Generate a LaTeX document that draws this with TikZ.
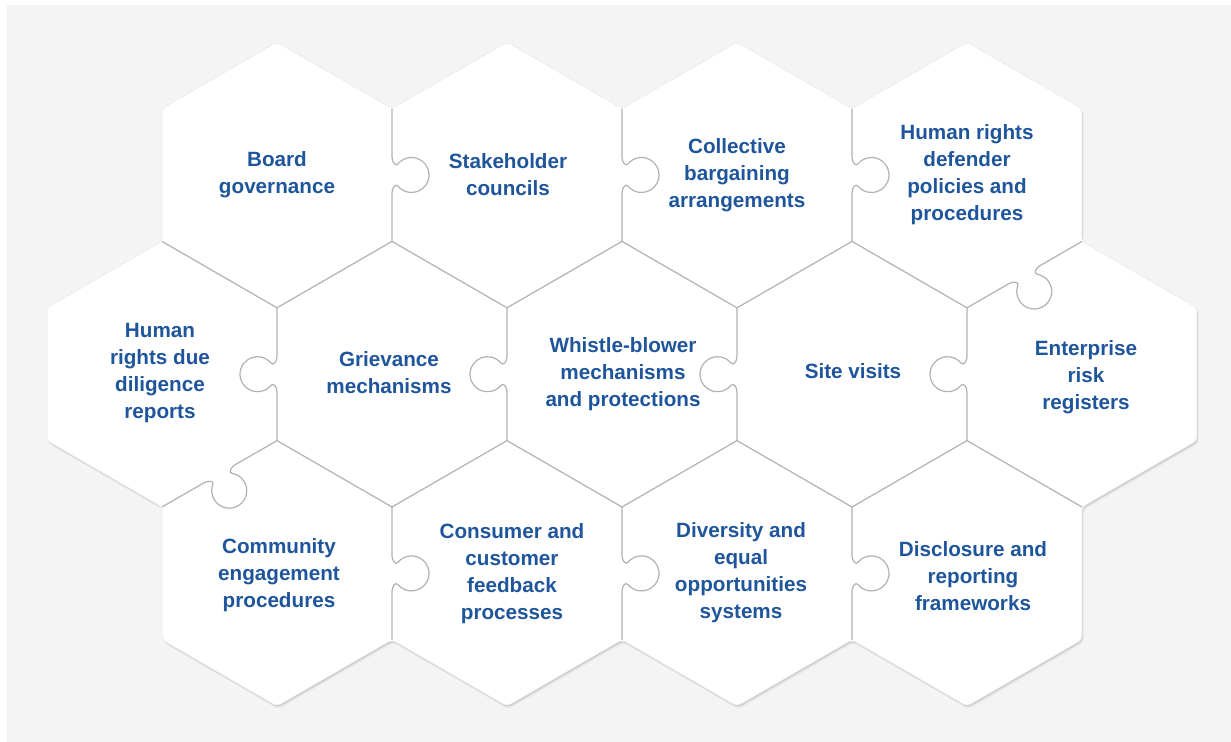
\documentclass[tikz,border=0pt]{standalone}
\usepackage{fontspec}
\setmainfont{Liberation Sans}

\definecolor{labelblue}{RGB}{31,85,155}
\definecolor{pagegray}{RGB}{244,244,244}
\definecolor{seamgray}{RGB}{178,178,178}

\tikzset{every picture/.style={line width=0.75pt}}
\tikzset{
  hexlabel/.style={font=\bfseries\fontsize{15.5}{20.2}\selectfont, text=labelblue, align=center, inner sep=0pt},
  seam/.style={draw=seamgray, line width=0.9pt},
  puzzletab/.pic={
    \draw [seam] (-66.4,0) -- (-18,0) .. controls (-13,0) and (-8.05,3.45) .. (-11.14,6)
      arc [start angle=230.47, end angle=-50.47, radius=17.5]
      .. controls (8.05,3.45) and (13,0) .. (18,0) -- (66.4,0);
  }
}

% outline of the whole puzzle (13 hexagons)
\newcommand{\puzzleoutline}{(277,42.2) -- (392,108.6) -- (507,42.2) -- (622,108.6) -- (737,42.2) -- (852,108.6) -- (967,42.2) -- (1082,108.6) -- (1082,241.4) -- (1197,307.8) -- (1197,440.6) -- (1082,507) -- (1082,639.8) -- (967,706.2) -- (852,639.8) -- (737,706.2) -- (622,639.8) -- (507,706.2) -- (392,639.8) -- (277,706.2) -- (162,639.8) -- (162,507) -- (47,440.6) -- (47,307.8) -- (162,241.4) -- (162,108.6) -- cycle}

\begin{document}
\begin{tikzpicture}[x=0.75pt,y=0.75pt,yscale=-1,xscale=1]
	\useasboundingbox (0,0) rectangle (1231,742);

	%Shape: Rectangle [background]
	\fill [white] (0,0) rectangle (1231,742);
	\fill [pagegray] (7,5) rectangle (1231,742);

	%Shape: Puzzle shadow and body
	\fill [gray!18, rounded corners=3pt, shift={(1.5,3)}] \puzzleoutline;
	\fill [gray!42, rounded corners=3pt, shift={(0.8,1.4)}] \puzzleoutline;
	\fill [white, draw=gray!15, line width=0.5pt, rounded corners=3pt] \puzzleoutline;

	%Straight Lines [seams between row 1 and row 2]
	\draw [seam] (162,241.4) -- (277,307.8) -- (392,241.4) -- (507,307.8) -- (622,241.4) -- (737,307.8) -- (852,241.4) -- (967,307.8) ;
	%Straight Lines [seams between row 2 and row 3]
	\draw [seam] (277,440.6) -- (392,507) -- (507,440.6) -- (622,507) -- (737,440.6) -- (852,507) -- (967,440.6) -- (1082,507) ;

	%Shape: Tabs, row 1
	\pic [rotate=-90] at (392,175) {puzzletab};
	\pic [rotate=-90] at (622,175) {puzzletab};
	\pic [rotate=-90] at (852,175) {puzzletab};
	\pic [rotate=210] at (1024.5,274.6) {puzzletab};
	%Shape: Tabs, row 2
	\pic [rotate=90] at (277,374.2) {puzzletab};
	\pic [rotate=90] at (507,374.2) {puzzletab};
	\pic [rotate=90] at (737,374.2) {puzzletab};
	\pic [rotate=90] at (967,374.2) {puzzletab};
	\pic [rotate=210] at (219.5,473.8) {puzzletab};
	%Shape: Tabs, row 3
	\pic [rotate=-90] at (392,573.4) {puzzletab};
	\pic [rotate=-90] at (622,573.4) {puzzletab};
	\pic [rotate=-90] at (852,573.4) {puzzletab};

	% Text Node
	\draw (277,175) node [hexlabel] (board) {Board\\governance};
	% Text Node
	\draw (508,175) node [hexlabel] (stakeholder) {Stakeholder\\councils};
	% Text Node
	\draw (737,175) node [hexlabel] (collective) {Collective\\bargaining\\arrangements};
	% Text Node
	\draw (967,175) node [hexlabel] (defender) {Human rights\\defender\\policies and\\procedures};
	% Text Node
	\draw (160,373) node [hexlabel] (duediligence) {Human\\rights due\\diligence\\reports};
	% Text Node
	\draw (389,373) node [hexlabel] (grievance) {Grievance\\mechanisms};
	% Text Node
	\draw (623,374) node [hexlabel] (whistle) {Whistle-blower\\mechanisms\\and protections};
	% Text Node
	\draw (853,371) node [hexlabel] (sitevisits) {Site visits};
	% Text Node
	\draw (1086,377) node [hexlabel] (enterprise) {Enterprise\\risk\\registers};
	% Text Node
	\draw (279,575) node [hexlabel] (community) {Community\\engagement\\procedures};
	% Text Node
	\draw (512,574) node [hexlabel] (consumer) {Consumer and\\customer\\feedback\\processes};
	% Text Node
	\draw (741,573) node [hexlabel] (diversity) {Diversity and\\equal\\opportunities\\systems};
	% Text Node
	\draw (973,576) node [hexlabel] (disclosure) {Disclosure and\\reporting\\frameworks};

\end{tikzpicture}
\end{document}
